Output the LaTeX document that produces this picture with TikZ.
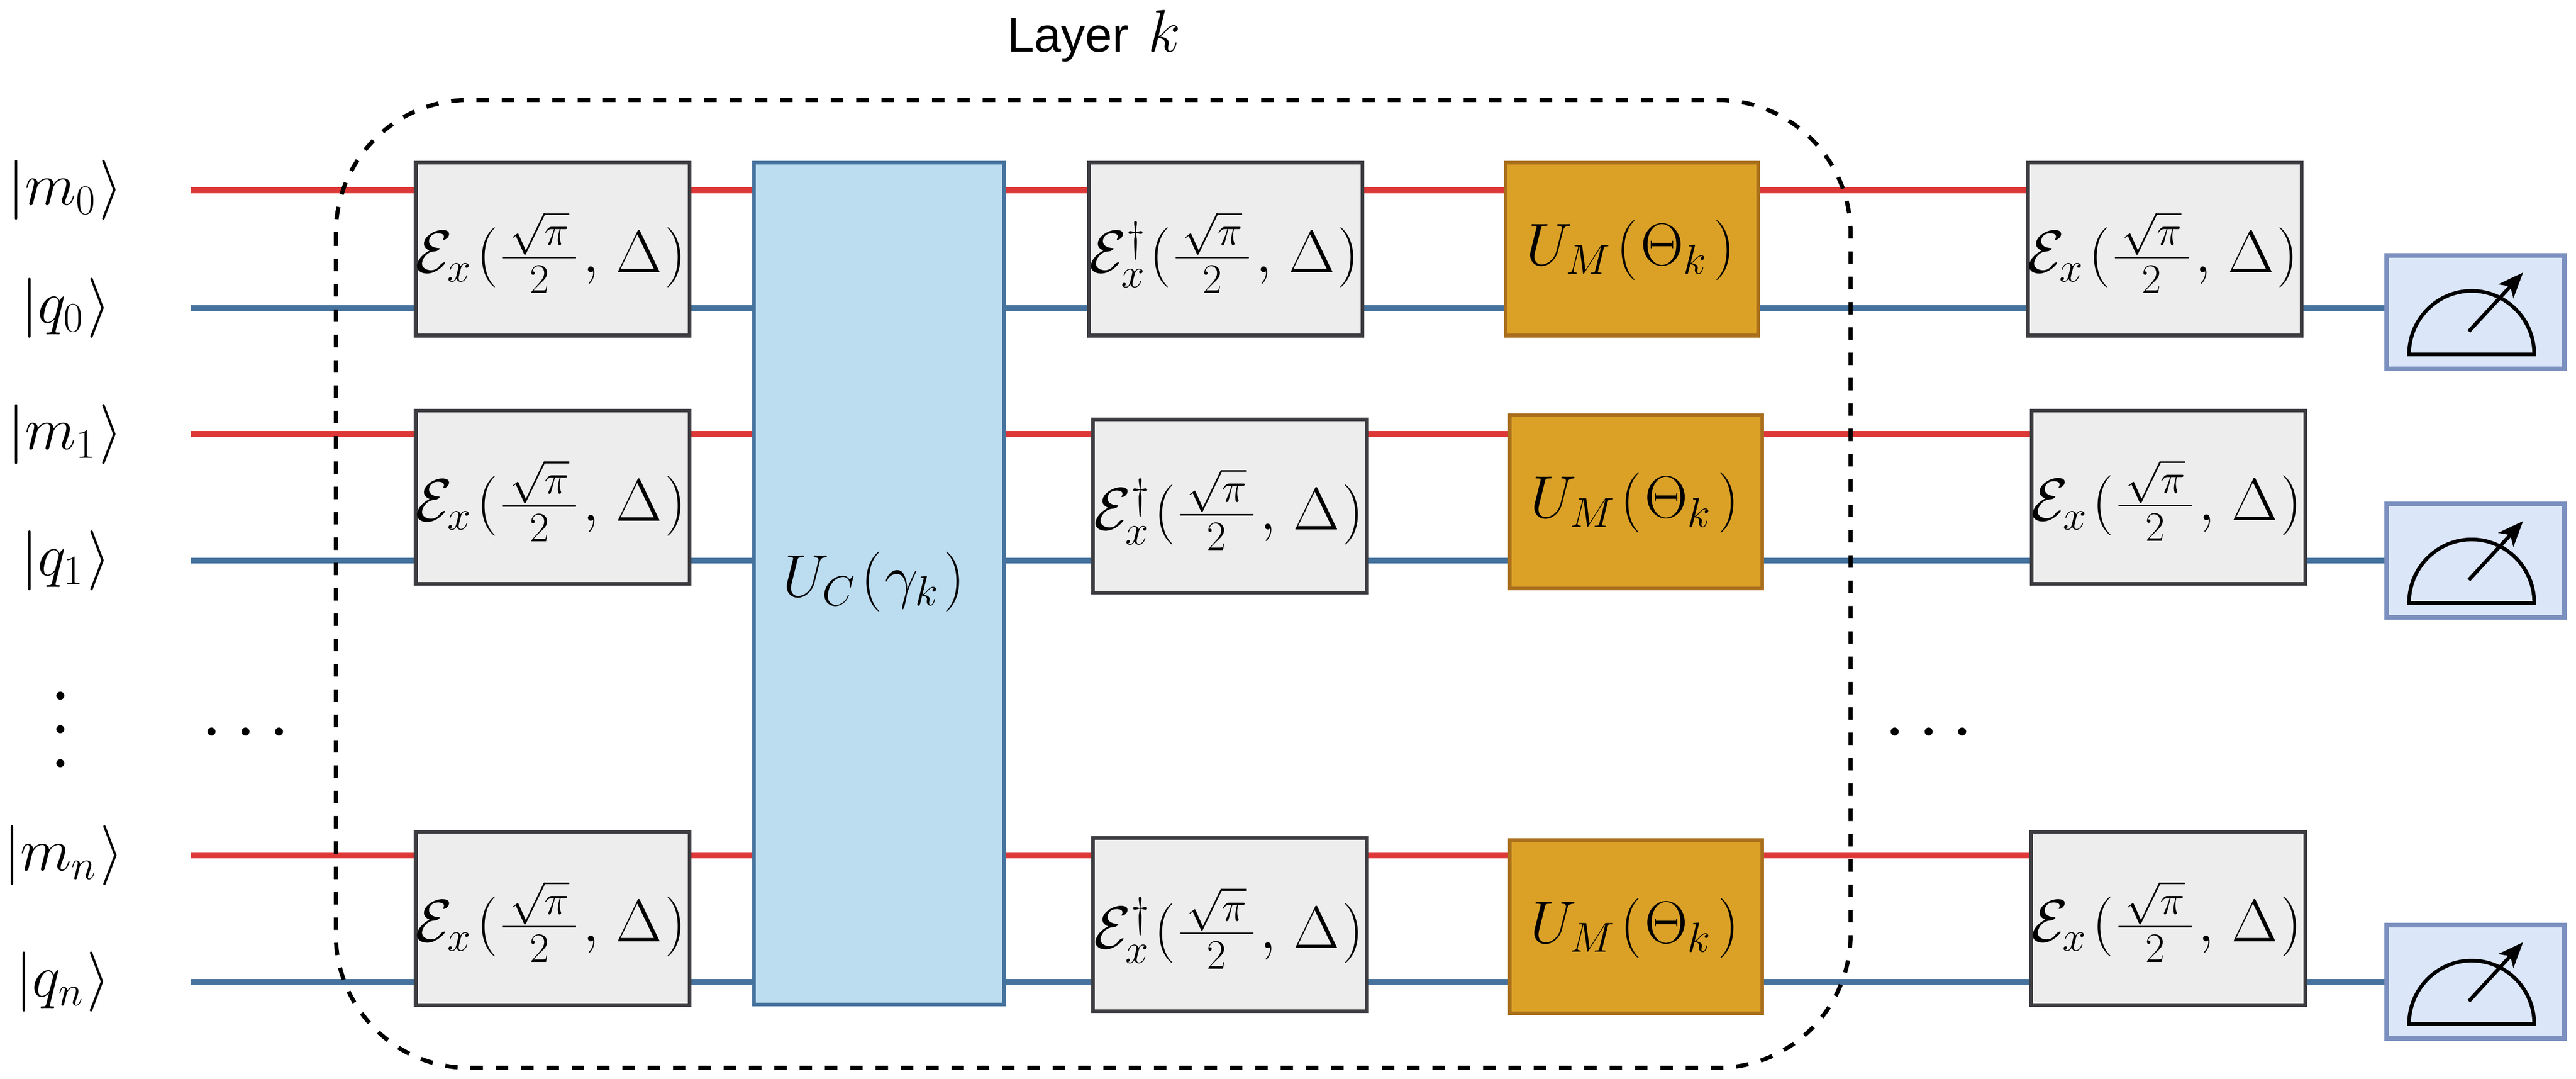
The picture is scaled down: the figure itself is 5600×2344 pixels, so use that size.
\RequirePackage{fix-cm}
\documentclass[tikz,border=0pt]{standalone}
\usepackage{amsmath}
\usepackage{fontspec}
\newfontfamily\layerfont{Liberation Sans}
\usetikzlibrary{arrows.meta,backgrounds,calc}
\definecolor{wirered}{HTML}{DD3737}
\definecolor{wireblue}{HTML}{46739E}
\definecolor{gatefill}{HTML}{EDEDED}
\definecolor{gateedge}{HTML}{3C3C41}
\definecolor{cfill}{HTML}{BCDCF0}
\definecolor{cedge}{HTML}{46739E}
\definecolor{mfill}{HTML}{DBA127}
\definecolor{medge}{HTML}{A96F1C}
\definecolor{mtfill}{HTML}{DBE6F9}
\definecolor{mtedge}{HTML}{7B90BF}
% text placed with its baseline dy below and its centre dx right of the node centre
\newcommand{\gtext}[3]{\makebox[0pt]{\kern#1\relax\raisebox{#2}[0pt][0pt]{$#3$}}}
\newcommand{\fr}{\kern0.06cm\frac{\kern0.15cm\sqrt{\pi}\kern0.15cm}{2}\kern0.1cm,\kern0.15cm\Delta\kern0.06cm}
\newcommand{\Ex}{\gtext{-0.08cm}{-0.51cm}{\mathcal{E}_x\kern0.12cm(\fr)}}
\newcommand{\Ed}{\gtext{-0.06cm}{-0.51cm}{\mathcal{E}_x^{\dagger}\kern0.08cm(\fr)}}
\newcommand{\UM}{\gtext{-0.05cm}{-0.35cm}{U_M\kern0.12cm(\kern0.06cm\Theta_{k}\kern0.15cm)}}
\newcommand{\UC}{\gtext{-0.22cm}{-0.28cm}{U_C\kern0.12cm(\kern0.05cm\gamma_k\kern0.11cm)}}
\newcommand{\wire}[4]{\draw[#1] (#2 -| #3.east) -- (#2 -| #4.west);}
\tikzset{
  x=0.01cm,y=-0.01cm,
  mathfont/.style={font=\fontsize{37}{44}\selectfont},
  box/.style={draw,line width=0.08cm,inner sep=0pt,outer sep=0pt,mathfont},
  egate/.style={box,fill=gatefill,draw=gateedge,minimum width=5.95cm,minimum height=3.76cm},
  cgate/.style={box,fill=cfill,draw=cedge,minimum width=5.43cm,minimum height=18.28cm},
  mgate/.style={box,fill=mfill,draw=medge,minimum width=5.48cm,minimum height=3.76cm},
  meterbox/.style={draw=mtedge,fill=mtfill,line width=0.10cm,minimum width=3.87cm,minimum height=2.46cm,inner sep=0pt,outer sep=0pt},
  meterline/.style={draw=black,line width=0.08cm},
  meterarrow/.style={draw=black,line width=0.08cm,-{Stealth[length=0.55cm,width=0.44cm,inset=0.14cm]}},
  redwire/.style={draw=wirered,line width=0.13cm},
  bluewire/.style={draw=wireblue,line width=0.13cm},
  layerbox/.style={draw=black,line width=0.09cm,dash pattern=on 0.27cm off 0.28cm,rounded corners=2.9cm},
  ket/.style={inner sep=0pt,outer sep=0pt,mathfont},
  dotsfont/.style={inner sep=0pt,font=\fontsize{47}{56}\selectfont},
}
\begin{document}
\begin{tikzpicture}
\useasboundingbox (0,0) rectangle (5600,2344);
% left labels
\node[ket] (lm0) at (142,413) {$|m_0\kern0.07cm\rangle$};
\node[ket] (lq0) at (143,669) {$|q_0\kern0.07cm\rangle$};
\node[ket] (lm1) at (142,943) {$|m_1\kern0.07cm\rangle$};
\node[ket] (lq1) at (143,1218) {$|q_1\kern0.07cm\rangle$};
\node[ket] (lmn) at (138,1858) {$|m_n\kern0.07cm\rangle$};
\node[ket] (lqn) at (137,2133) {$|q_n\kern0.07cm\rangle$};
\node[dotsfont,rotate=90] (vd) at (136,1571) {$\cdots$};
\node[dotsfont] (cdl) at (548,1594) {$\cdots$};
\node[dotsfont] (cdr) at (4207,1594) {$\cdots$};
\node[anchor=base west,inner sep=0pt,mathfont] (layer) at (2189,112) {{\layerfont\fontsize{30}{36}\selectfont Layer}\hspace{12pt}$k$};
% gates
\node[egate] (e1) at (1201.5,541) {\Ex};
\node[egate] (e2) at (1201.5,1080.5) {\Ex};
\node[egate] (e3) at (1201.5,1995) {\Ex};
\node[cgate] (uc) at (1910.5,1268) {\UC};
\node[egate] (d1) at (2664.5,541) {\Ed};
\node[egate] (d2) at (2674,1099.5) {\Ed};
\node[egate] (d3) at (2674,2009) {\Ed};
\node[mgate] (u1) at (3547.5,541) {\UM};
\node[mgate] (u2) at (3556.5,1090.5) {\UM};
\node[mgate] (u3) at (3556.5,2013.5) {\UM};
\node[egate] (r1) at (4706,541) {\Ex};
\node[egate] (r2) at (4714,1080) {\Ex};
\node[egate] (r3) at (4713.5,1995) {\Ex};
% meters
\foreach \n/\y in {1/678,2/1218,3/2133}{
  \node[meterbox] (m\n) at (5381.5,\y) {};
  \draw[meterline] ($(m\n.center)+(-144.5,92)$) arc[start angle=180,end angle=0,x radius=1.36cm,y radius=1.38cm] -- cycle;
  \draw[meterarrow] ($(m\n.center)+(-14.5,42)$) -- ($(m\n.center)+(103.5,-86)$);
}
% wires
\coordinate (w0) at (414,413);
\coordinate (w1) at (414,669);
\coordinate (w2) at (414,943);
\coordinate (w3) at (414,1218);
\coordinate (w4) at (414,1858);
\coordinate (w5) at (414,2133);
\begin{scope}[on background layer]
  \draw[redwire] (w0) -- (w0 -| e1.west);
  \draw[bluewire] (w1) -- (w1 -| e1.west);
  \draw[redwire] (w2) -- (w2 -| e2.west);
  \draw[bluewire] (w3) -- (w3 -| e2.west);
  \draw[redwire] (w4) -- (w4 -| e3.west);
  \draw[bluewire] (w5) -- (w5 -| e3.west);
  \foreach \a/\b/\c/\d/\e [count=\i from 1] in {e1/d1/u1/r1/m1,e2/d2/u2/r2/m2,e3/d3/u3/r3/m3}{
    \pgfmathtruncatemacro{\rw}{2*(\i-1)}
    \pgfmathtruncatemacro{\bw}{2*(\i-1)+1}
    \wire{redwire}{w\rw}{\a}{uc}
    \wire{redwire}{w\rw}{uc}{\b}
    \wire{redwire}{w\rw}{\b}{\c}
    \wire{redwire}{w\rw}{\c}{\d}
    \wire{bluewire}{w\bw}{\a}{uc}
    \wire{bluewire}{w\bw}{uc}{\b}
    \wire{bluewire}{w\bw}{\b}{\c}
    \wire{bluewire}{w\bw}{\c}{\d}
    \wire{bluewire}{w\bw}{\d}{\e}
  }
\end{scope}
% layer frame
\draw[layerbox] (730,217) rectangle (4023,2320);
\end{tikzpicture}
\end{document}
